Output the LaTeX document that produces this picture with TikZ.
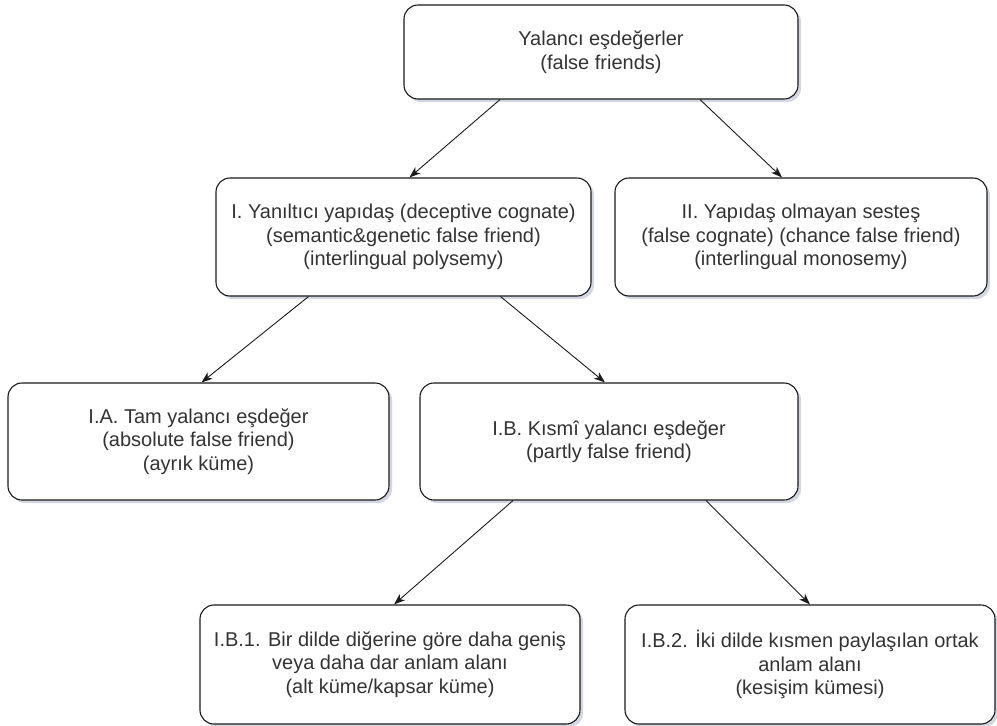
\documentclass[tikz,border=0pt]{standalone}
\usepackage{fontspec}
\setmainfont{Liberation Sans}
\usetikzlibrary{arrows.meta,shadows}
\definecolor{boxline}{HTML}{1A1A1A}
\definecolor{txt}{HTML}{333333}
\definecolor{shad}{HTML}{9DA3C0}
\tikzset{
  box/.style={draw=boxline, line width=1.1pt, rounded corners=14pt, fill=white,
    align=center, text=txt, inner sep=2pt,
    font=\fontsize{20}{23.5}\selectfont,
    drop shadow={shadow xshift=3pt, shadow yshift=-3pt, fill=shad, opacity=0.45}},
  arr/.style={draw=boxline, line width=0.9pt, -{Stealth[length=11pt,width=8pt,inset=3pt]}}
}
\begin{document}
\begin{tikzpicture}[x=1pt,y=-1pt]
\useasboundingbox (0,0) rectangle (997,726);
\node[box, minimum width=394pt, minimum height=94pt] (top) at (601,52)
  {Yalancı eşdeğerler\\(false friends)};
\node[box, minimum width=375pt, minimum height=118pt] (I) at (403.5,237)
  {I. Yanıltıcı yapıdaş (deceptive cognate)\\(semantic\&genetic false friend)\\(interlingual polysemy)};
\node[box, minimum width=372pt, minimum height=118pt] (II) at (801,237)
  {II. Yapıdaş olmayan sesteş\\(false cognate) (chance false friend)\\(interlingual monosemy)};
\node[box, minimum width=381pt, minimum height=117pt] (IA) at (198.5,441.5)
  {I.A. Tam yalancı eşdeğer\\(absolute false friend)\\(ayrık küme)};
\node[box, minimum width=378pt, minimum height=117pt] (IB) at (609,441.5)
  {I.B. Kısmî yalancı eşdeğer\\(partly false friend)};
\node[box, minimum width=380pt, minimum height=119pt] (IB1) at (390,664.5)
  {I.B.1. Bir dilde diğerine göre daha geniş\\veya daha dar anlam alanı\\(alt küme/kapsar küme)};
\node[box, minimum width=370pt, minimum height=119pt] (IB2) at (810,664.5)
  {I.B.2. İki dilde kısmen paylaşılan ortak\\anlam alanı\\(kesişim kümesi)};
\draw[arr] ([xshift=-101pt]top.south) -- ([xshift=6pt]I.north);
\draw[arr] ([xshift=99pt]top.south) -- ([xshift=-19pt]II.north);
\draw[arr] ([xshift=-95pt]I.south) -- ([xshift=3pt]IA.north);
\draw[arr] ([xshift=97pt]I.south) -- ([xshift=-4pt]IB.north);
\draw[arr] ([xshift=-96pt]IB.south) -- ([xshift=4pt]IB1.north);
\draw[arr] ([xshift=97pt]IB.south) -- (IB2.north);
\end{tikzpicture}
\end{document}
